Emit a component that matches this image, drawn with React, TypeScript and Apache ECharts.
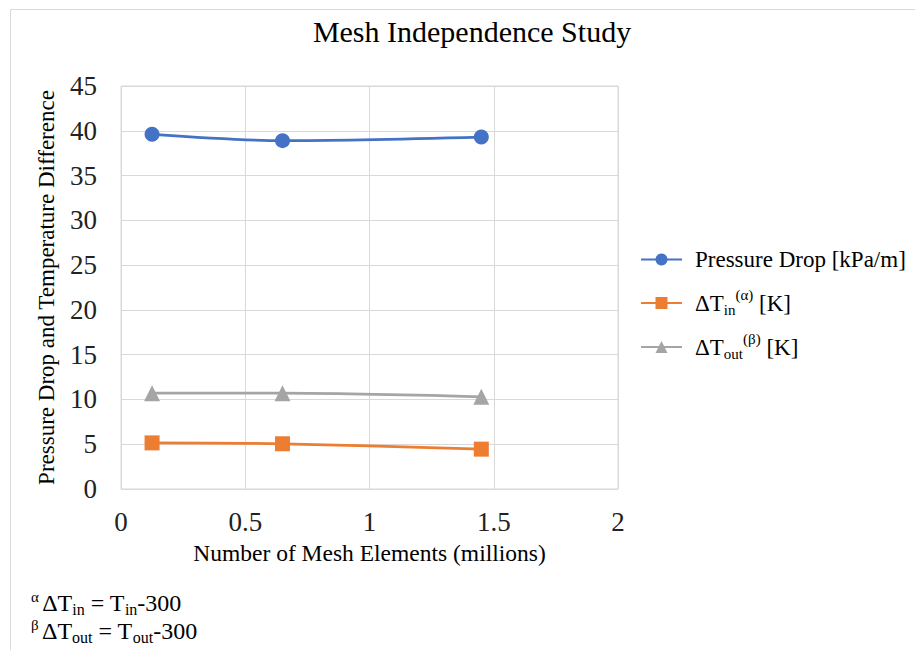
import React, { useEffect, useRef } from "react";
import * as echarts from "echarts";

const title = "Mesh Independence Study";
const xAxisName = "Number of Mesh Elements (millions)";
const yAxisName = "Pressure Drop and Temperature Difference";
const meshElements = [0.125, 0.65, 1.45];
const pressureDrop = [39.6, 38.9, 39.3];
const deltaTin = [5.15, 5.05, 4.45];
const deltaTout = [10.7, 10.7, 10.3];
const seriesNames = ["Pressure Drop [kPa/m]", "ΔTin(α) [K]", "ΔTout(β) [K]"];

const FONT = "'Liberation Serif', 'Times New Roman', serif";

export default function App() {
  const ref = useRef<HTMLDivElement>(null);
  useEffect(() => {
    document.body.style.margin = "0";
    if (!ref.current) return;
    const chart = echarts.init(ref.current, undefined, { renderer: "svg" });
    const pair = (ys: number[]) => meshElements.map((x, i) => [x, ys[i]]);
    const richBase = {
      n: { fontSize: 23, fontFamily: FONT, color: "#000", lineHeight: 32, verticalAlign: "middle" },
      sub: { fontSize: 15, fontFamily: FONT, color: "#000", lineHeight: 32, verticalAlign: "bottom", padding: [0, 0, 2, 0] },
      sup: { fontSize: 15, fontFamily: FONT, color: "#000", lineHeight: 32, verticalAlign: "top", padding: [0, 0, 0, 0] },
    };
    const legendFmt = (name: string) => {
      if (name === seriesNames[1]) return "{n|ΔT}{sub|in}{sup|(α)}{n| [K]}";
      if (name === seriesNames[2]) return "{n|ΔT}{sub|out}{sup|(β)}{n| [K]}";
      return "{n|" + name + "}";
    };
    const mkLegend = (name: string, top: number) => ({
      data: [name],
      left: 635,
      top,
      orient: "vertical",
      itemWidth: 41,
      itemHeight: 15,
      itemGap: 0,
      formatter: legendFmt,
      textStyle: { rich: richBase, fontFamily: FONT, fontSize: 23, color: "#000", padding: [0, 0, 0, 8] },
    });
    const footRich = {
      n: { fontSize: 24, fontFamily: FONT, color: "#000", lineHeight: 28, verticalAlign: "middle" },
      sub: { fontSize: 16, fontFamily: FONT, color: "#000", lineHeight: 28, verticalAlign: "bottom" },
      sup: { fontSize: 15, fontFamily: FONT, color: "#000", lineHeight: 28, verticalAlign: "top" },
    };
    chart.setOption({
      animation: false,
      backgroundColor: "#fff",
      title: {
        text: title,
        left: 467,
        textAlign: "center",
        top: 11,
        textStyle: { fontFamily: FONT, fontSize: 30, fontWeight: "normal", color: "#000" },
      },
      legend: [mkLegend(seriesNames[0], 243), mkLegend(seriesNames[1], 282), mkLegend(seriesNames[2], 326)],
      grid: {
        left: 121,
        right: 297,
        top: 86,
        bottom: 161,
        show: true,
        borderColor: "#d9d9d9",
        borderWidth: 1,
        containLabel: false,
      },
      xAxis: {
        type: "value",
        min: 0,
        max: 2,
        interval: 0.5,
        name: xAxisName,
        nameLocation: "middle",
        nameGap: 52,
        nameTextStyle: { fontFamily: FONT, fontSize: 23.5, color: "#000" },
        axisLine: { show: false },
        axisTick: { show: false },
        axisLabel: { fontFamily: FONT, fontSize: 27, color: "#222", margin: 19 },
        splitLine: { lineStyle: { color: "#d9d9d9", width: 1 } },
      },
      yAxis: {
        type: "value",
        min: 0,
        max: 45,
        interval: 5,
        name: yAxisName,
        nameLocation: "middle",
        nameGap: 63,
        nameTextStyle: { fontFamily: FONT, fontSize: 23, color: "#000" },
        axisLine: { show: false },
        axisTick: { show: false },
        axisLabel: { fontFamily: FONT, fontSize: 27, color: "#222", margin: 24 },
        splitLine: { lineStyle: { color: "#d9d9d9", width: 1 } },
      },
      series: [
        {
          name: seriesNames[0],
          type: "line",
          data: pair(pressureDrop),
          smooth: 0.3,
          symbol: "circle",
          symbolSize: 15,
          itemStyle: { color: "#4472C4" },
          lineStyle: { color: "#4472C4", width: 2.75 },
        },
        {
          name: seriesNames[1],
          type: "line",
          data: pair(deltaTin),
          smooth: 0.3,
          symbol: "rect",
          symbolSize: 15,
          itemStyle: { color: "#ED7D31" },
          lineStyle: { color: "#ED7D31", width: 2.75 },
        },
        {
          name: seriesNames[2],
          type: "line",
          data: pair(deltaTout),
          smooth: 0.3,
          symbol: "triangle",
          symbolSize: 16,
          itemStyle: { color: "#A5A5A5" },
          lineStyle: { color: "#A5A5A5", width: 2.75 },
        },
      ],
      graphic: [
        {
          type: "rect",
          z: -10,
          shape: { x: 10.5, y: 9.5, width: 1000, height: 1000 },
          style: { fill: "none", stroke: "#d9d9d9", lineWidth: 1 },
        },
        {
          type: "text",
          left: 31,
          top: 589,
          style: {
            text: "{sup|α} {n|ΔT}{sub|in}{n| = T}{sub|in}{n|-300}",
            rich: footRich,
          },
        },
        {
          type: "text",
          left: 31,
          top: 617,
          style: {
            text: "{sup|β} {n|ΔT}{sub|out}{n| = T}{sub|out}{n|-300}",
            rich: footRich,
          },
        },
      ],
    });
    return () => chart.dispose();
  }, []);
  return <div ref={ref} style={{ width: 915, height: 650 }} />;
}
